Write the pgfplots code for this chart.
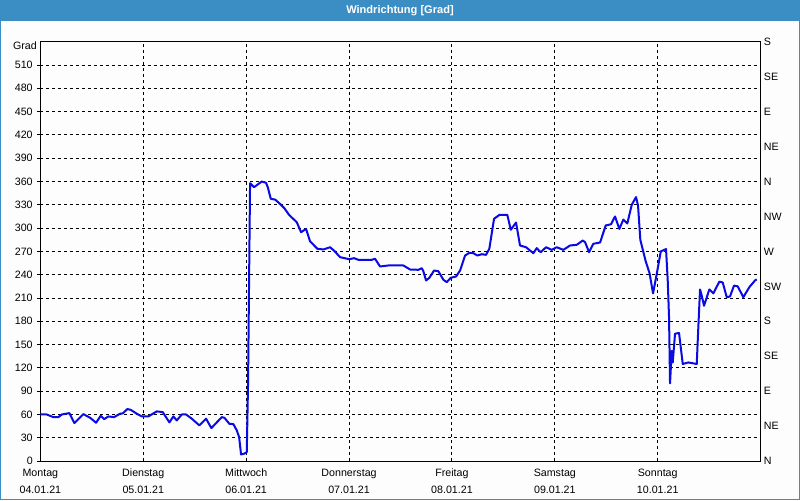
\documentclass[border=0pt]{standalone}
\usepackage{pgfplots}
\pgfplotsset{compat=1.18}
\usepackage{fontspec}
\setmainfont{Liberation Sans}
\definecolor{barblue}{RGB}{59,142,196}
\definecolor{lineblue}{RGB}{10,10,228}
\definecolor{bg}{RGB}{252,253,252}
\newcommand{\lblfont}{\fontsize{8}{12.75}\selectfont}
\begin{document}
\begin{tikzpicture}
\begin{scope}[x=0.75pt,y=0.75pt]
\fill[bg] (-40.3,-39.3) rectangle (759.7,460.7);
\fill[barblue] (-40.3,440.2) rectangle (759.7,460.7);
\draw[barblue, line width=0.75pt] (-39.9,-38.9) rectangle (759.3,460.7);
\node[white, font=\bfseries\fontsize{8.3}{9}\selectfont] at (359.7,450.6) {Windrichtung [Grad]};
\node[anchor=east, inner sep=0pt, font=\lblfont] at (-3.3,415.2) {Grad};
\end{scope}
\begin{axis}[
  at={(0,0)}, anchor=south west, scale only axis,
  width=540.3pt, height=314.6pt,
  xmin=0, xmax=168, ymin=0, ymax=540,
  xtick={0,24,...,144},
  xticklabels={{Montag\\04.01.21},{Dienstag\\05.01.21},{Mittwoch\\06.01.21},{Donnerstag\\07.01.21},{Freitag\\08.01.21},{Samstag\\09.01.21},{Sonntag\\10.01.21}},
  xticklabel style={align=center, font=\lblfont},
  ytick={0,30,...,510},
  yticklabel style={font=\lblfont},
  /pgf/number format/assume math mode=true,
  xtick pos=bottom, ytick pos=left,
  xtick style={draw=none},
  ytick style={black, line width=0.75pt},
  tick align=outside, major tick length=2.25pt,
  grid=major,
  major grid style={black, line width=0.75pt, dash pattern=on 2.25pt off 2.25pt},
  axis line style={black, line width=0.75pt},
  clip=true,
]
\addplot[lineblue, line width=1.5pt, line join=round] table {
x y
0 60
1.49 60
3.03 56.6
4.20 56.6
4.99 60
6.76 61.8
7.93 49
10.03 60.5
11.59 55.8
12.99 49.4
14.09 58.4
14.86 54
15.86 57.5
17.19 56.6
18.59 61
19.22 61.4
20.29 67
21.08 66
22.48 61
23.65 57.5
25.19 57.5
27.15 64
28.55 63
30.09 49.8
31.02 57.5
31.81 52.4
32.98 60
33.98 60
35.31 54.6
37.08 46
38.65 54.6
39.88 42.5
42.31 56.6
42.92 55.8
44.08 48
45.02 47.6
45.81 39.5
46.35 31
46.81 8.6
47.51 9.5
48.14 11.6
48.44 100
48.68 232
48.91 357.8
49.84 352.7
51.64 360
52.64 358.3
53.04 352.7
53.74 337.7
54.74 336.8
55.74 332
56.91 325.6
58.01 317
59.80 307.6
60.81 294.7
61.97 299
62.90 283
64.61 273.4
66.01 272.5
67.57 275.4
68.50 271
69.90 262.6
72.00 260
73.17 261.3
74.17 259.2
77.30 259.2
78.06 260.5
79.23 250.6
81.17 251.9
84.67 251.9
86.23 246.7
88.16 246.3
88.96 248.4
89.30 245
89.96 232.6
90.73 236
91.83 245.4
92.83 244.5
94.00 233.5
94.79 230.4
95.72 236
96.96 237.7
97.89 245.4
99.06 264.7
100.06 268.2
100.99 267.7
101.93 264.7
102.95 266.4
103.96 265.6
104.72 273.4
105.82 312
107.06 317
108.92 317
109.72 297.8
110.95 307.2
111.88 277.6
113.28 275.4
114.99 267.7
115.78 274.2
116.71 269
117.95 275.4
119.28 272
120.44 275.4
121.98 272
123.55 277.6
125.11 278.5
126.51 284
127.05 281.9
127.98 269
128.98 279.8
130.55 281.5
131.87 303.4
133.11 305
134.04 315
135.05 299
135.98 311
136.91 306
137.94 330
138.94 340
139.41 329
139.94 285
141.16 258
142.09 242
142.91 216
143.77 241
144.71 270
145.94 273
146.34 232
146.64 185
146.87 100
147.27 142
147.50 127
148.04 164
148.97 165
149.84 125
151.14 127
152.17 126
153.10 125
153.47 172
153.87 221
154.27 213
154.80 200
156.04 221
156.97 216
158.37 231
159.16 230
160.10 211
160.86 212
161.80 226
162.66 225
163.97 211
165.37 224
166.70 232.6
167.09 234
};
\end{axis}
\begin{axis}[
  at={(0,0)}, anchor=south west, scale only axis,
  width=540.3pt, height=314.6pt,
  xmin=0, xmax=168, ymin=0, ymax=540,
  axis x line=none, axis y line*=right,
  ytick={0,45,...,540},
  yticklabels={N,NE,E,SE,S,SW,W,NW,N,NE,E,SE,S},
  yticklabel style={font=\lblfont, xshift=-1pt},
  ytick style={draw=none},
  axis line style={black, line width=0.75pt},
]
\addplot[draw=none] coordinates {(0,0)};
\end{axis}
\end{tikzpicture}
\end{document}
